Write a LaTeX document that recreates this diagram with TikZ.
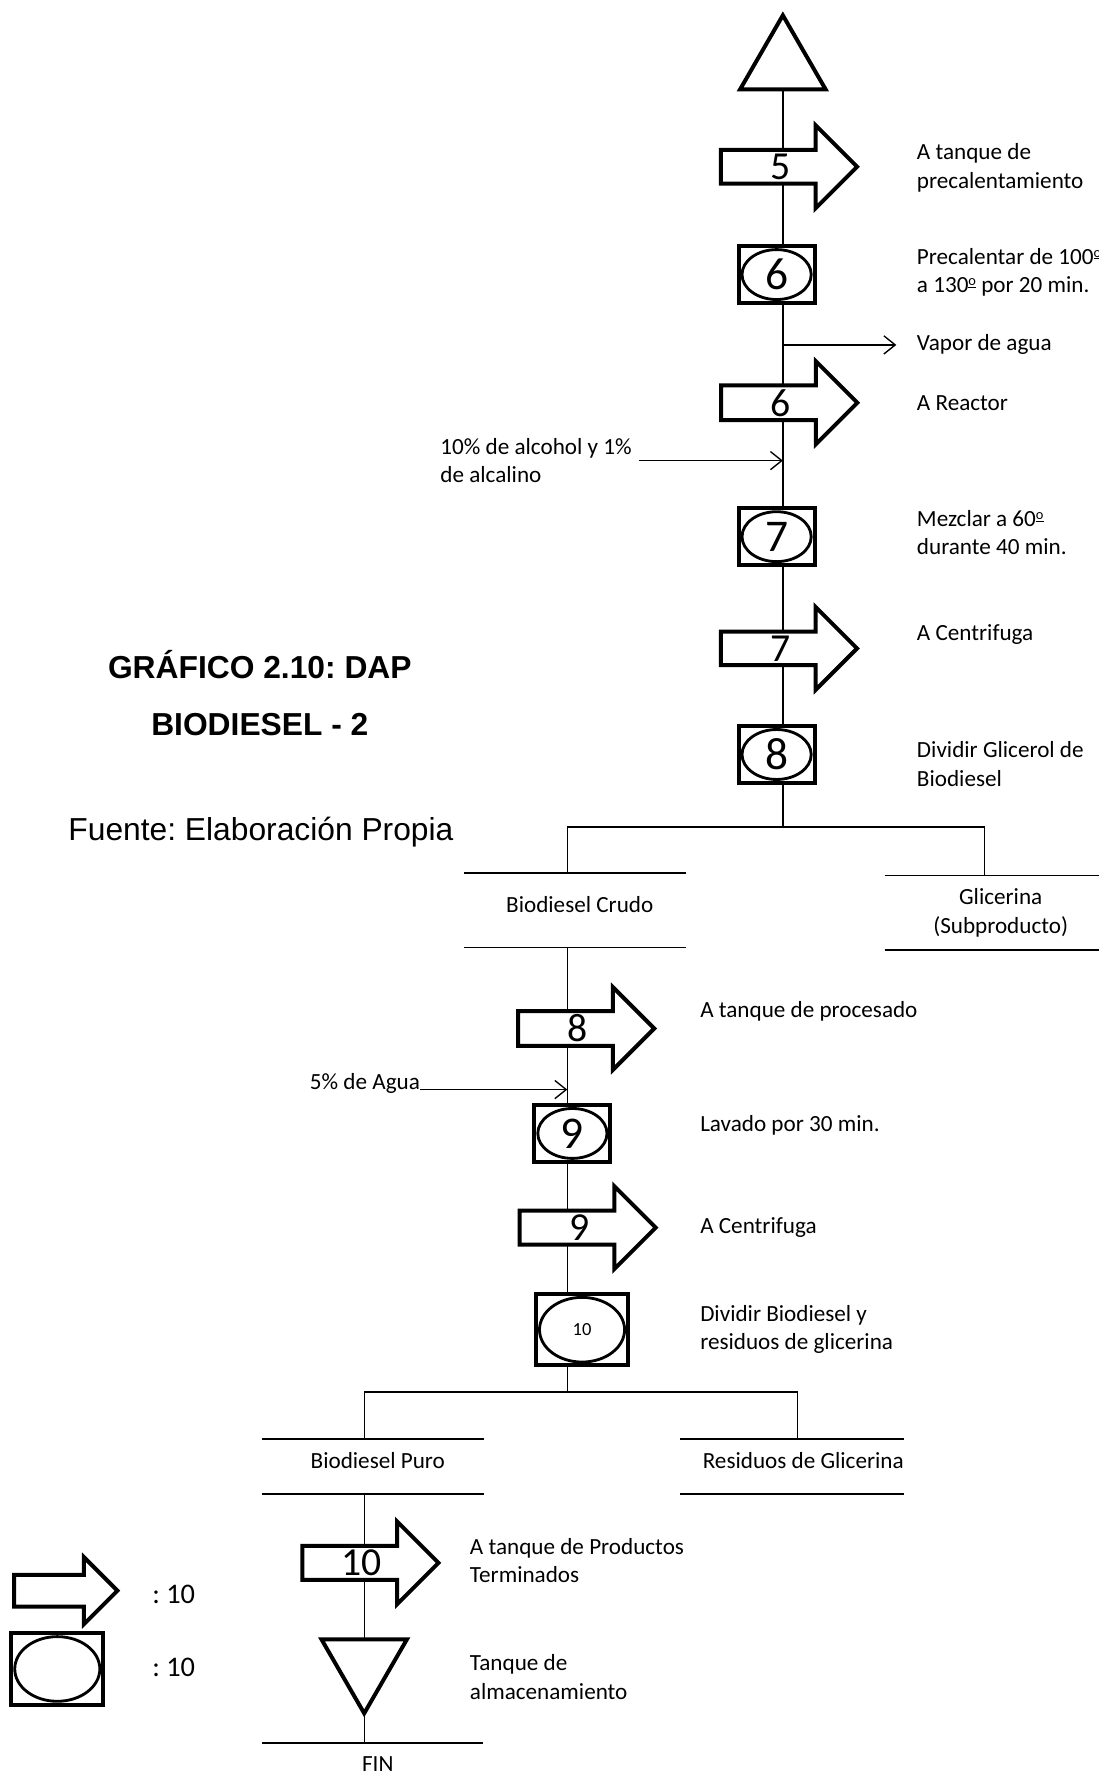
\documentclass[tikz,border=0pt]{standalone}
\usepackage{fontspec}
\setmainfont{Carlito}
\newfontfamily\arialfont{Liberation Sans}
\frenchspacing
\newcommand\ordo{\raisebox{.62ex}{\scalebox{.62}{\underline{o}}}}
\usetikzlibrary{shapes.geometric, shapes.arrows, arrows.meta, positioning, calc, backgrounds}
\tikzset{
    link/.style={line width=1.2pt},
    flow/.style={line width=1.2pt, -{Straight Barb[length=10pt, width=16pt]}},
    transport/.style={single arrow, draw, fill=white, line width=3.5pt, single arrow tip angle=90, single arrow head extend=19pt, minimum width=73pt, minimum height=120pt, inner sep=0pt, font=\fontsize{35}{40}\selectfont},
    operation/.style={rectangle, draw, fill=white, line width=3.5pt, minimum width=67pt, minimum height=50pt, inner sep=0pt, font=\fontsize{40}{44}\selectfont,
        path picture={\draw[line width=2.5pt] let \p1=(path picture bounding box.north east), \p2=(path picture bounding box.center) in (\p2) ellipse [x radius=\x1-\x2-3pt, y radius=\y1-\y2-3pt];}},
    storage/.style={regular polygon, regular polygon sides=3, draw, fill=white, line width=3.5pt, minimum size=87pt, inner sep=0pt},
    note/.style={inner sep=0pt, align=left, anchor=west, font=\fontsize{20.4}{25}\selectfont},
    outcome/.style={inner sep=0pt, align=center, font=\fontsize{20.4}{25}\selectfont, minimum width=195pt,
        append after command={(\tikzlastnode.north west) edge[link] (\tikzlastnode.north east) (\tikzlastnode.south west) edge[link] (\tikzlastnode.south east)}},
    endbar/.style={inner sep=0pt, font=\fontsize{20.4}{25}\selectfont, minimum width=194pt, minimum height=36pt,
        append after command={(\tikzlastnode.north west) edge[link] (\tikzlastnode.north east)}}
}
\begin{document}
\begin{tikzpicture}[x=1pt, y=1pt]
    \useasboundingbox (0,0) rectangle (968,-1568);

    % Title
    \node (Title) [font={\arialfont\bfseries\fontsize{28}{50}\selectfont}, align=center] at (229,-611) {GRÁFICO 2.10: DAP\\BIODIESEL - 2};
    \node (Source) [font={\arialfont\fontsize{28}{34}\selectfont}] at (230,-733) {Fuente: Elaboración Propia};

    % First line
    \node (Start) [storage] at (690,-57) {};
    \node (T5) [transport] at (688,-147) {5};
    \node (O6) [operation] at (684.5,-242) {6};
    \node (T6) [transport] at (688,-355) {6};
    \node (O7) [operation] at (684.5,-473) {7};
    \node (T7) [transport] at (688,-571.5) {7};
    \node (O8) [operation] at (684.5,-665) {8};

    \node (T5_label) [note] at (808,-148) {A tanque de\\precalentamiento};
    \node (O6_label) [note] at (808,-240) {Precalentar de 100\ordo\\a 130\ordo{} por 20 min.};
    \node (Vapor) [note] at (808,-304) {Vapor de agua};
    \node (T6_label) [note] at (808,-355) {A Reactor};
    \node (Alcohol) [note] at (388,-406) {10\% de alcohol y 1\%\\de alcalino};
    \node (O7_label) [note] at (808,-469.5) {Mezclar a 60\ordo\\durante 40 min.};
    \node (T7_label) [note] at (808,-559) {A Centrifuga};
    \node (O8_label) [note] at (808,-673.5) {Dividir Glicerol de\\Biodiesel};

    % First split
    \coordinate (Split1) at (690,-729);
    \coordinate (Split1L) at (500,-729);
    \coordinate (Split1R) at (868,-729);
    \node (Crudo) [outcome, minimum height=65.5pt, text depth=11pt, execute at begin node=\hspace*{9pt}] at (506.5,-802.3) {Biodiesel Crudo};
    \node (Glicerina) [outcome, minimum width=204pt, minimum height=65pt] at (882,-804.5) {Glicerina\\(Subproducto)};

    % Second line
    \node (T8) [transport] at (509,-906.5) {8};
    \node (O9) [operation] at (504.5,-999) {9};
    \node (T9) [transport] at (510.5,-1082) {9};
    \node (O10) [operation, minimum width=81pt, minimum height=63pt, font=\fontsize{16.3}{20}\selectfont] at (513,-1172) {10};

    \node (T8_label) [note] at (617,-891) {A tanque de procesado};
    \node (Agua) [note] at (273,-955) {5\% de Agua};
    \node (O9_label) [note] at (617,-992) {Lavado por 30 min.};
    \node (T9_label) [note] at (617,-1082) {A Centrifuga};
    \node (O10_label) [note] at (617,-1171.5) {Dividir Biodiesel y\\residuos de glicerina};

    % Second split
    \coordinate (Split2) at (500,-1227);
    \coordinate (Split2L) at (321,-1227);
    \coordinate (Split2R) at (703,-1227);
    \node (Puro) [outcome, minimum height=48pt, text depth=11pt, execute at begin node=\hspace*{9pt}] at (328.5,-1292.5) {Biodiesel Puro};
    \node (Residuos) [outcome, minimum width=194pt, minimum height=48pt, text depth=11pt, execute at begin node=\hspace*{20pt}] at (698,-1292.5) {Residuos de Glicerina};

    % Last line
    \node (T10) [transport] at (319,-1377.5) {10};
    \node (End) [storage, shape border rotate=180] at (321,-1466.6) {};
    \node (Fin) [endbar, execute at begin node=\hspace*{9pt}] at (328.5,-1554.5) {FIN};

    \node (T10_label) [note] at (414,-1375.5) {A tanque de Productos\\Terminados};
    \node (End_label) [note] at (414,-1478) {Tanque de\\almacenamiento};

    % Legend
    \node (LegT) [transport, minimum width=59pt, single arrow head extend=14.5pt, minimum height=91pt] at (51,-1402) {\vphantom{5}};
    \node (LegO) [operation, minimum width=81pt, minimum height=63pt] at (50.5,-1471) {};
    \node (LegT_label) [note, font=\fontsize{25}{30}\selectfont] at (134,-1405) {: 10};
    \node (LegO_label) [note, font=\fontsize{25}{30}\selectfont] at (134,-1470) {: 10};

    % Flow lines
    \begin{scope}[on background layer]
        \draw[link] (Start) -- (Split1);
        \draw[link] (Split1L) -- (Split1R);
        \draw[link] (Split1L) -- (Split1L |- Crudo.north);
        \draw[link] (Split1R) -- (Split1R |- Glicerina.north);
        \draw[link] (Crudo.south -| Split1L) -- (Split2);
        \draw[link] (Split2L) -- (Split2R);
        \draw[link] (Split2L) -- (Split2L |- Puro.north);
        \draw[link] (Split2R) -- (Split2R |- Residuos.north);
        \draw[link] (Puro.south -| Split2L) -- (Split2L |- Fin.north);
    \end{scope}

    % Inputs and outputs
    \draw[flow, shorten >=18pt] (Vapor.west -| Start) -- (Vapor.west);
    \draw[flow, shorten <=6pt] (Alcohol.east) -- (Alcohol.east -| Start);
    \draw[flow] (Agua.base east) -- (Agua.base east -| Split1L);
\end{tikzpicture}
\end{document}
